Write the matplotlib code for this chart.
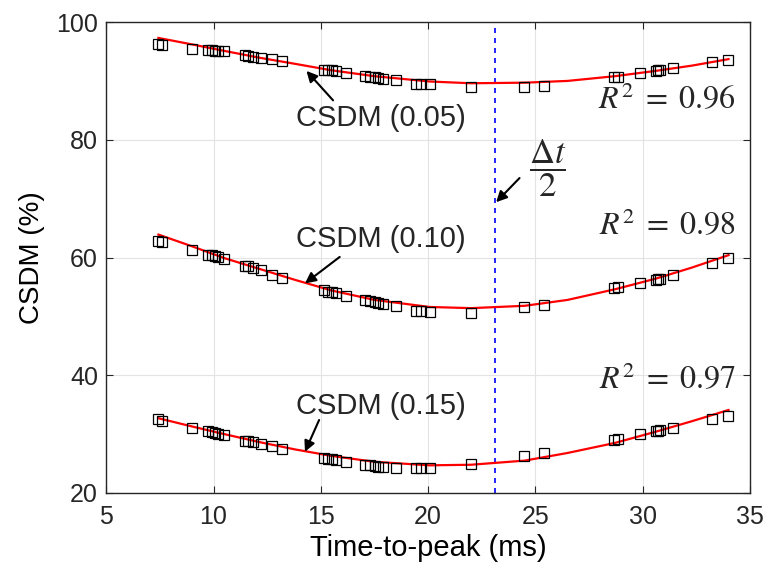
import numpy as np
import matplotlib
matplotlib.use('Agg')
import matplotlib.pyplot as plt

# Time-to-peak of each sample (ms), shared by all three thresholds
time_to_peak = [7.43, 7.62, 8.99, 9.76, 9.92, 10.07, 10.22, 10.49, 11.47, 11.62,
                11.85, 12.20, 12.71, 13.17, 15.15, 15.34, 15.54, 15.73, 16.16, 17.05,
                17.28, 17.51, 17.67, 17.90, 18.49, 19.45, 19.68, 20.07, 22.00, 24.49,
                25.39, 28.67, 28.87, 29.87, 30.61, 30.73, 30.80, 31.39, 33.25, 33.99]

# CSDM (%) at each threshold
csdm_005 = [96.2, 96.1, 95.5, 95.3, 95.2, 95.1, 95.0, 95.0, 94.4, 94.3,
            94.1, 93.9, 93.7, 93.4, 91.9, 91.8, 91.8, 91.7, 91.4, 90.8,
            90.7, 90.6, 90.5, 90.4, 90.1, 89.5, 89.5, 89.4, 88.9, 89.0,
            89.2, 90.6, 90.7, 91.3, 91.7, 91.8, 91.8, 92.2, 93.2, 93.6]
csdm_010 = [62.8, 62.7, 61.3, 60.5, 60.4, 60.3, 60.1, 59.7, 58.6, 58.5,
            58.2, 57.9, 57.0, 56.5, 54.4, 54.2, 54.1, 53.9, 53.5, 52.8,
            52.6, 52.4, 52.3, 52.1, 51.7, 51.0, 50.9, 50.8, 50.6, 51.6,
            51.9, 54.9, 55.0, 55.7, 56.2, 56.3, 56.4, 57.0, 59.1, 60.0]
csdm_015 = [32.5, 32.2, 31.0, 30.5, 30.4, 30.2, 30.1, 29.8, 28.9, 28.8,
            28.6, 28.3, 27.9, 27.5, 25.9, 25.8, 25.7, 25.6, 25.3, 24.8,
            24.7, 24.6, 24.5, 24.5, 24.2, 24.2, 24.2, 24.2, 24.9, 26.3,
            26.8, 29.0, 29.2, 30.0, 30.5, 30.6, 30.7, 31.0, 32.5, 33.1]

# Fitted curves
fit_x = [7.43, 9.0, 10.5, 12.2, 13.8, 15.5, 17.5, 20.07, 22.0, 24.5, 26.5, 28.7, 30.6, 32.3, 34.0]
fit_005 = [97.3, 96.2, 95.1, 93.9, 92.9, 91.8, 90.8, 89.9, 89.6, 89.7, 90.0, 90.8, 91.7, 92.6, 93.7]
fit_010 = [63.9, 61.9, 59.9, 58.0, 56.2, 54.4, 52.8, 51.6, 51.4, 51.8, 52.8, 54.6, 56.4, 58.3, 60.4]
fit_015 = [32.7, 31.3, 30.0, 28.6, 27.4, 26.3, 25.3, 24.7, 24.8, 25.5, 26.8, 28.5, 30.4, 32.2, 34.1]

r2_labels = ['0.96', '0.98', '0.97']
half_dt = 23.1

plt.rcParams['font.family'] = ['Liberation Sans', 'DejaVu Sans']
plt.rcParams['mathtext.fontset'] = 'stix'
plt.rcParams['axes.linewidth'] = 1.0
plt.rcParams['axes.edgecolor'] = '#262626'
plt.rcParams['text.color'] = '#262626'
plt.rcParams['xtick.color'] = '#262626'
plt.rcParams['ytick.color'] = '#262626'

fig = plt.figure(figsize=(7.7, 5.8), dpi=100)
ax = fig.add_axes([0.138, 0.150, 0.836, 0.812])

for vals, fit in [(csdm_005, fit_005), (csdm_010, fit_010), (csdm_015, fit_015)]:
    ax.plot(fit_x, fit, color='red', lw=1.6, zorder=3)
    ax.plot(time_to_peak, vals, ls='none', marker='s', ms=6.5, mfc='none',
            mec='black', mew=0.9, zorder=4)

ax.axvline(half_dt, color='blue', ls=(0, (3, 3)), lw=1.2, zorder=2)

ax.set_xlim(5, 35)
ax.set_ylim(20, 100)
ax.set_xticks(np.arange(5, 36, 5))
ax.set_yticks(np.arange(20, 101, 20))
ax.grid(True, color='#e3e3e3', lw=0.8)
ax.set_axisbelow(True)
ax.tick_params(direction='in', top=True, right=True, length=5, labelsize=18)
ax.tick_params(axis='x', pad=9)
ax.tick_params(axis='y', pad=6)
ax.set_xlabel('Time-to-peak (ms)', fontsize=21, labelpad=3)
ax.set_ylabel('CSDM (%)', fontsize=20, labelpad=8)

# Series labels with arrows
arrow = dict(arrowstyle='-|>', color='black', lw=1.5, mutation_scale=16, shrinkA=0, shrinkB=0)
ax.text(13.85, 83.7, 'CSDM (0.05)', fontsize=21, va='center', ha='left')
ax.annotate('', xy=(14.33, 91.7), xytext=(15.57, 86.7), arrowprops=arrow)
ax.text(13.85, 63.1, 'CSDM (0.10)', fontsize=21, va='center', ha='left')
ax.annotate('', xy=(14.26, 55.6), xytext=(15.88, 60.1), arrowprops=arrow)
ax.text(13.85, 34.8, 'CSDM (0.15)', fontsize=21, va='center', ha='left')
ax.annotate('', xy=(14.26, 27.0), xytext=(14.92, 32.4), arrowprops=arrow)

# Goodness of fit
for y, r2 in zip([86.7, 65.2, 39.2], r2_labels):
    ax.text(34.3, y, r'$R^2\;=\;%s$' % r2, fontsize=23, ha='right', va='center')

ax.text(25.55, 75.2, r'$\dfrac{\Delta t}{2}$', fontsize=25, ha='center', va='center')
ax.annotate('', xy=(23.17, 69.4), xytext=(24.26, 73.5), arrowprops=arrow)

fig.savefig('out.png', dpi=100)
